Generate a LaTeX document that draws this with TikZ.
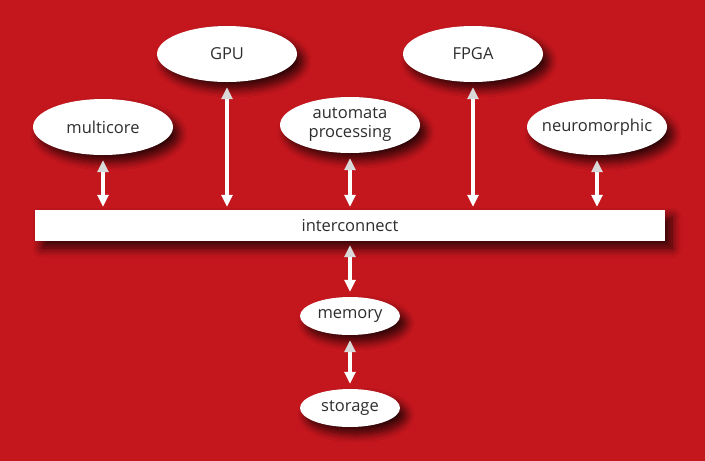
\documentclass[tikz,border=0pt]{standalone}
\usepackage{fontspec}
\setmainfont{Open Sans}
\usetikzlibrary{shapes.geometric,arrows.meta,shadows.blur}
\definecolor{bgred}{HTML}{C3161D}
\definecolor{txt}{HTML}{2E2E2E}
\tikzset{
  unit/.style={ellipse,fill=white,inner xsep=-15pt,inner ysep=0pt,minimum width=140pt,minimum height=56pt,
    text=txt,font=\fontsize{16.5}{19}\selectfont,align=center,
    blur shadow={shadow xshift=6pt,shadow yshift=-7pt,shadow blur steps=10,shadow opacity=75,shadow blur radius=8pt}},
  small/.style={unit,minimum width=100pt,minimum height=38pt},
  bus/.style={rectangle,fill=white,inner sep=0pt,minimum width=630pt,minimum height=31pt,
    text=txt,font=\fontsize{16.5}{19}\selectfont,
    blur shadow={shadow xshift=7pt,shadow yshift=-7pt,shadow blur steps=10,shadow opacity=75,shadow blur radius=9pt}},
  link/.style={draw=white,line width=3.5pt,shorten <=5pt,shorten >=3pt,
    {Triangle[width=11pt,length=12pt,color=gray!30]}-{Triangle[width=11pt,length=12pt,color=white]}},
}
\begin{document}
\begin{tikzpicture}[x=1pt,y=-1pt]
\fill[bgred] (0,0) rectangle (705,461);
\useasboundingbox (0,0) rectangle (705,461);
\node[unit] (gpu) at (227,54) {GPU};
\node[unit] (fpga) at (473,54) {FPGA};
\node[unit] (multi) at (103,127) {multicore};
\node[unit] (auto) at (350,125) {automata\\processing};
\node[unit] (neuro) at (597,127) {neuromorphic};
\node[bus] (ic) at (350,225.5) {interconnect};
\node[small] (mem) at (350,316) {memory};
\node[small] (sto) at (350,408) {storage};
\draw[link] (multi.south) -- (multi.south |- ic.north);
\draw[link] (gpu.south) -- (gpu.south |- ic.north);
\draw[link] (auto.south) -- (auto.south |- ic.north);
\draw[link] (fpga.south) -- (fpga.south |- ic.north);
\draw[link] (neuro.south) -- (neuro.south |- ic.north);
\draw[link,shorten <=4pt,shorten >=5pt] (ic.south) -- (mem.north);
\draw[link,shorten <=5pt,shorten >=5pt] (mem.south) -- (sto.north);
\end{tikzpicture}
\end{document}
